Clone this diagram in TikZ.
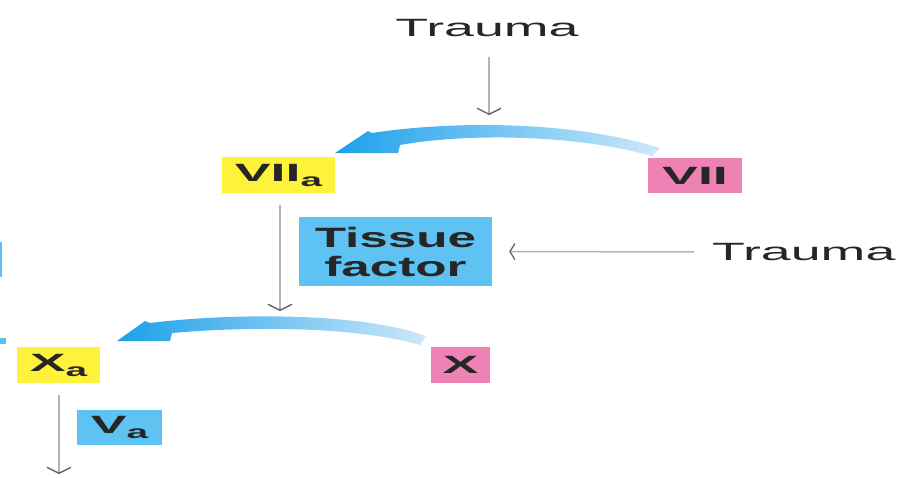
\documentclass[tikz,border=0pt]{standalone}
\usepackage{fontspec}
\setmainfont{Liberation Sans}
\usetikzlibrary{arrows.meta}
\newcommand{\wtxt}[1]{\scalebox{2.15}[1]{#1}}
\newcommand{\wbtxt}[1]{\scalebox{1.83}[1]{#1}}
\newcommand{\subA}{\raisebox{-5pt}{\fontsize{18}{18}\selectfont a}}
\definecolor{ybox}{RGB}{255,242,58}
\definecolor{pbox}{RGB}{238,130,180}
\definecolor{bbox}{RGB}{94,195,242}
\definecolor{adark}{RGB}{28,160,235}
\definecolor{alight}{RGB}{205,232,250}
\definecolor{gline}{RGB}{180,180,180}
\definecolor{gtip}{RGB}{95,95,95}
\begin{document}
\begin{tikzpicture}[x=1pt,y=-1pt,
  box/.style={inner sep=0pt, minimum height=36pt, font=\fontsize{25}{30}\selectfont\bfseries, text=black!85},
  lbl/.style={inner sep=0pt, font=\fontsize{25}{30}\selectfont, text=black!85},
  garrow/.style={draw=gline, line width=2.2pt, -{Straight Barb[length=6pt,width=24pt,line width=1.3pt,color=gtip]}},
  garrowthin/.style={draw=gline, line width=1.5pt, -{Straight Barb[length=5pt,width=16pt,line width=1.2pt,color=gtip]}},
  blueshade/.style={left color=adark, middle color=adark!85!alight, right color=alight}]
\useasboundingbox (0,0) rectangle (904,477);
\fill[white] (0,0) rectangle (904,477);

% nodes
\node[lbl] (traumaTop) at (487,28) {\wtxt{Trauma}};
\node[box, fill=ybox, minimum width=113pt] (VIIa) at (278.5,175) {\wtxt{VII\subA}};
\node[box, fill=pbox, minimum width=94pt, minimum height=35pt] (VII) at (695,175.5) {\wtxt{VII}};
\node[box, fill=bbox, minimum width=193pt, minimum height=69pt, align=center, font=\fontsize{28}{29}\selectfont\bfseries] (tissue) at (395.5,251.5) {\wbtxt{Tissue}\\\wbtxt{factor}};
\node[lbl, anchor=west] (traumaR) at (712,252) {\wtxt{Trauma}};
\node[box, fill=ybox, minimum width=83pt] (Xa) at (58.5,365) {\wtxt{X\subA}};
\node[box, fill=pbox, minimum width=59pt] (X) at (460.5,365) {\wtxt{X}};
\node[box, fill=bbox, minimum width=85pt, minimum height=35pt] (Va) at (119.5,427.5) {\wtxt{V\subA}};

% free ends
\coordinate (t1) at (489,115);
\coordinate (t2) at (280,311);
\coordinate (t3) at (59,474);

% grey connectors
\draw[garrow, shorten <=20pt] ([xshift=2pt]traumaTop.south) -- (t1);
\draw[garrow, shorten <=12pt] ([xshift=1.5pt]VIIa.south) -- (t2);
\draw[garrow, shorten <=12pt] ([xshift=0.5pt]Xa.south) -- (t3);
\draw[garrowthin, shorten <=18pt, shorten >=17pt] (traumaR.west) -- (tissue.east);

% blue curved arrows (VII -> VIIa, X -> Xa)
\shade[blueshade] (335,153) -- (368,131) -- (372,133)
  .. controls (450,121) and (570,120) .. (660,148)
  -- (652,156)
  .. controls (570,133) and (460,134) .. (400,145)
  -- (398,153) -- cycle;
\shade[blueshade] (117,341) -- (145,321) -- (150,323)
  .. controls (230,313) and (360,312) .. (426,336)
  -- (420,345)
  .. controls (350,325) and (240,327) .. (172,333)
  -- (170,341) -- cycle;

% cut-off fragments at the left edge
\fill[bbox] (0,242) rectangle (1.5,277);
\fill[adark!60!alight] (0,338) rectangle (6,344);
\end{tikzpicture}
\end{document}
